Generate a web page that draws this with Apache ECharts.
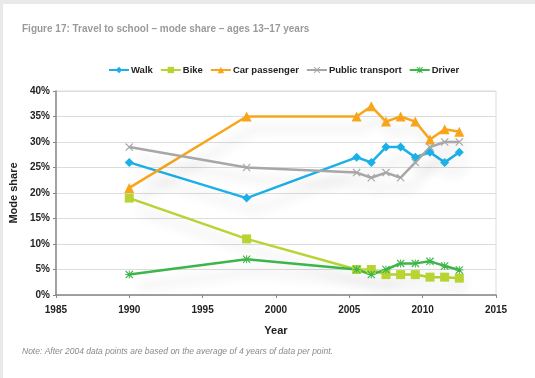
<!DOCTYPE html>
<html><head><meta charset="utf-8">
<script src="https://cdn.jsdelivr.net/npm/echarts@6/dist/echarts.min.js"></script>
<style>html,body{margin:0;padding:0;background:#fff}#c{width:535px;height:378px}</style>
</head><body><div id="c"></div>
<script>
const years = [1990, 1998, 2005.5, 2006.5, 2007.5, 2008.5, 2009.5, 2010.5, 2011.5, 2012.5];
const walk = [26, 19, 27, 26, 29, 29, 27, 28, 26, 28];
const bike = [19, 11, 5, 5, 4, 4, 4, 3.5, 3.5, 3.3];
const carPassenger = [21, 35, 35, 37, 34, 35, 34, 30.5, 32.5, 32];
const publicTransport = [29, 25, 24, 23, 24, 23, 26, 29, 30, 30];
const driver = [4, 7, 5, 4, 5, 6.2, 6.2, 6.6, 5.7, 4.9];
const yTicks = [0, 5, 10, 15, 20, 25, 30, 35, 40];
const xTicks = [1985, 1990, 1995, 2000, 2005, 2010, 2015];

const F = '"Liberation Sans Narrow", "Liberation Sans", Arial, sans-serif';
const xSym = 'path://M0,1L1,0L5,4L9,0L10,1L6,5L10,9L9,10L5,6L1,10L0,9L4,5Z';
const starSym = 'path://M0,1L1,0L5,4L9,0L10,1L6,5L10,9L9,10L5,6L1,10L0,9L4,5Z M4.4,0L5.6,0L5.6,10L4.4,10Z M0,4.4L10,4.4L10,5.6L0,5.6Z';

function mk(name, vals, color, symbol, size) {
  return {
    name, type: 'line', data: years.map((y, i) => [y, vals[i]]),
    symbol, symbolSize: size,
    lineStyle: { color, width: 2.5, shadowColor: 'rgba(0,0,0,0.16)', shadowBlur: 12, shadowOffsetY: 12, shadowOffsetX: 8 },
    itemStyle: { color },
    emphasis: { disabled: true }
  };
}

const chart = echarts.init(document.getElementById('c'));
chart.setOption({
  animation: false,
  backgroundColor: '#fff',
  graphic: [
    { type: 'rect', left: 0, top: 0, shape: { width: 535, height: 4 }, style: { fill: '#e9e9e9' } },
    { type: 'rect', left: 0, top: 0, shape: { width: 3, height: 378 }, style: { fill: '#e9e9e9' } },
    { type: 'text', left: 22, top: 24, style: { text: 'Figure 17: Travel to school – mode share – ages 13–17 years', font: 'bold 10px ' + F, fill: '#9a9a9a' } },
    { type: 'text', left: 22, top: 347, style: { text: 'Note: After 2004 data points are based on the average of 4 years of data per point.', font: 'italic 8.5px ' + F, fill: '#8a8a8a' } }
  ],
  legend: {
    top: 60, left: 103, itemWidth: 20, itemHeight: 8, itemGap: 7,
    textStyle: { fontFamily: F, fontWeight: 'bold', fontSize: 9.5, color: '#222', padding: [0, 0, 0, -3] },
    data: ['Walk', 'Bike', 'Car passenger', 'Public transport', 'Driver']
  },
  grid: { left: 55, right: 39, top: 91, bottom: 83, show: true, borderColor: '#dcdcdc', borderWidth: 1 },
  xAxis: {
    type: 'value', min: 1985, max: 2015, interval: 5,
    name: 'Year', nameLocation: 'middle', nameGap: 30,
    nameTextStyle: { fontFamily: F, fontWeight: 'bold', fontSize: 11, color: '#222' },
    axisLine: { lineStyle: { color: '#888', width: 1.5 } },
    axisTick: { show: true, length: 3, lineStyle: { color: '#888' } },
    axisLabel: { fontFamily: F, fontWeight: 'bold', fontSize: 10, color: '#222', margin: 10, formatter: v => String(v) },
    splitLine: { show: false }
  },
  yAxis: {
    type: 'value', min: 0, max: 40, interval: 5,
    name: 'Mode share', nameLocation: 'middle', nameGap: 23, nameRotate: 90,
    nameTextStyle: { fontFamily: F, fontWeight: 'bold', fontSize: 11, color: '#222' },
    axisLine: { show: true, lineStyle: { color: '#888', width: 1.5 } },
    axisTick: { show: true, length: 3, lineStyle: { color: '#888' } },
    axisLabel: { fontFamily: F, fontWeight: 'bold', fontSize: 10, color: '#222', margin: 6, formatter: v => v + '%' },
    splitLine: { lineStyle: { color: '#dcdcdc', width: 1 } }
  },
  series: [
    mk('Walk', walk, '#1cb0e8', 'diamond', 9),
    mk('Bike', bike, '#b7d433', 'rect', 9),
    mk('Car passenger', carPassenger, '#f8a51b', 'triangle', 10),
    mk('Public transport', publicTransport, '#a7a7a7', xSym, 8),
    mk('Driver', driver, '#3cb64a', starSym, 8)
  ]
});
</script></body></html>
